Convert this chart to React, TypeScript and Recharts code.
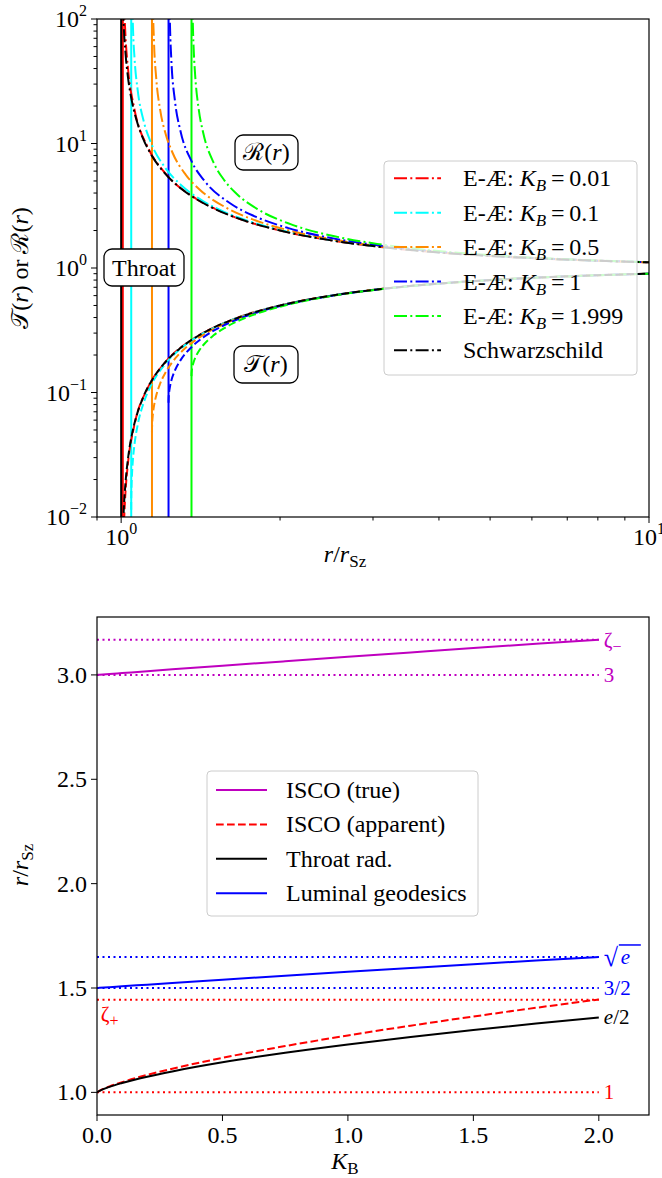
import { LineChart, Line, XAxis, YAxis, ReferenceLine } from "recharts";

const SERIF = "'Liberation Serif', 'Times New Roman', Times, serif";
const FS = 24;

// ---------- top panel: metric functions along r / r_Sz ----------
const KB_LABELS = ["0.01", "0.1", "0.5", "1", "1.999"];
const KB_COLORS = ["#ff0000", "#00ffff", "#ff8c00", "#0000ff", "#00ff00"];
const THROAT_R = [1.0072, 1.0449, 1.1439, 1.2296, 1.3591];
const HORIZON_R = 1;

// K_B = 0.01
const R_001 = [1.00719, 1.00722, 1.00752, 1.00805, 1.00975, 1.0121, 1.01501, 1.01843, 1.03105, 1.05809, 1.12623, 1.20505, 1.37876, 1.56294, 2.04195, 2.53144, 3.52098, 4.51574, 5.5126, 7.50902, 10.5063];
const T_001 = [0.00123, 0.00155, 0.00235, 0.0033, 0.0056, 0.00839, 0.01162, 0.01523, 0.02793, 0.0534, 0.11123, 0.16966, 0.27442, 0.36003, 0.51022, 0.60495, 0.71598, 0.77855, 0.81857, 0.86682, 0.90481];
const G_001 = [1e7, 14992, 1849, 761.5, 289.7, 161.7, 106.4, 76.84, 38.76, 19.43, 9.121, 5.941, 3.656, 2.783, 1.961, 1.654, 1.397, 1.2846, 1.2217, 1.1537, 1.1052];

// K_B = 0.1
const R_01 = [1.04485, 1.04485, 1.04488, 1.04503, 1.04546, 1.04662, 1.04875, 1.053, 1.06049, 1.0746, 1.10349, 1.13712, 1.21314, 1.29644, 1.42897, 1.56685, 1.7555, 2.04428, 2.5331, 3.52201, 4.5165, 5.51317, 7.50938, 10.5066];
const T_01 = [0.011451, 0.011821, 0.012506, 0.013561, 0.01539, 0.018491, 0.02263, 0.029335, 0.039035, 0.0548, 0.083061, 0.1124, 0.17058, 0.22519, 0.29806, 0.36039, 0.42953, 0.51036, 0.60502, 0.71601, 0.77856, 0.81857, 0.86683, 0.90481];
const G_01 = [1e7, 79134, 10288, 2789, 908.6, 342.3, 166.2, 84.31, 47.28, 26.97, 15.07, 10.31, 6.342, 4.665, 3.453, 2.828, 2.357, 1.973, 1.659, 1.399, 1.2855, 1.2223, 1.1539, 1.1053];

// K_B = 0.5
const R_05 = [1.14391, 1.14394, 1.14429, 1.14539, 1.14822, 1.15372, 1.1653, 1.18515, 1.21503, 1.24891, 1.3248, 1.40747, 1.58412, 1.76917, 2.05462, 2.54044, 3.52664, 4.51988, 5.51584, 7.51123, 10.5079];
const T_05 = [0.04777, 0.0493, 0.05293, 0.05821, 0.06632, 0.07741, 0.09446, 0.11752, 0.14633, 0.17461, 0.22834, 0.27749, 0.36201, 0.43061, 0.51102, 0.60534, 0.71612, 0.77861, 0.81863, 0.86684, 0.90482];
const G_05 = [1e7, 16000, 1519.5, 408.6, 147.7, 67.7, 33.47, 18.78, 11.81, 8.584, 5.623, 4.275, 3.038, 2.468, 2.029, 1.683, 1.407, 1.2898, 1.2248, 1.1552, 1.1059];

// K_B = 1
const R_1 = [1.22963, 1.22966, 1.2302, 1.23133, 1.233, 1.23776, 1.24414, 1.26567, 1.29321, 1.36004, 1.43664, 1.60569, 1.78624, 2.06757, 2.54966, 3.03925, 3.53245, 4.52411, 5.51919, 7.51363, 10.5095];
const T_1 = [0.08268, 0.08445, 0.08995, 0.09551, 0.1011, 0.11235, 0.12366, 0.15184, 0.17951, 0.23221, 0.28055, 0.364, 0.43195, 0.51183, 0.60574, 0.66988, 0.71625, 0.77868, 0.81866, 0.86685, 0.90482];
const G_1 = [1e7, 17851, 1120.5, 383.0, 197.0, 84.61, 49.0, 21.32, 12.98, 7.176, 5.037, 3.325, 2.6145, 2.0995, 1.7142, 1.5278, 1.4182, 1.2952, 1.2281, 1.1567, 1.1066];

// K_B = 1.999
const R_1999 = [1.35914, 1.35941, 1.36017, 1.36307, 1.36757, 1.37347, 1.38059, 1.40277, 1.42991, 1.4946, 1.56861, 1.64872, 1.82026, 2.09342, 2.56805, 3.05351, 3.54408, 4.5326, 5.52585, 7.51828, 10.5127];
const T_1999 = [0.13534, 0.14075, 0.14616, 0.15695, 0.16768, 0.17833, 0.18888, 0.21471, 0.23964, 0.2865, 0.32919, 0.36788, 0.4346, 0.51342, 0.60653, 0.67032, 0.71653, 0.7788, 0.81873, 0.86688, 0.90484];
const G_1999 = [1e7, 2601, 676, 182.3, 87.11, 52.56, 36.0, 18.78, 12.25, 7.111, 5.063, 4.0, 2.939, 2.25, 1.7778, 1.5625, 1.44, 1.3061, 1.2346, 1.1598, 1.108];

// Schwarzschild
const R_SZ = [1.0001, 1.0005, 1.002, 1.005, 1.01, 1.02, 1.03, 1.05, 1.07, 1.1, 1.15, 1.2, 1.3, 1.4, 1.5, 1.7, 2, 2.5, 3, 4, 5, 6, 8, 10.5];
const T_SZ = [0.0001, 0.0005, 0.002, 0.004975, 0.0099, 0.01961, 0.02913, 0.04762, 0.06542, 0.09091, 0.1304, 0.1667, 0.2308, 0.2857, 0.3333, 0.4118, 0.5, 0.6, 0.6667, 0.75, 0.8, 0.8333, 0.875, 0.9048];
const G_SZ = [10001, 2001, 501, 201, 101, 51, 34.33, 21, 15.29, 11, 7.667, 6, 4.333, 3.5, 3, 2.429, 2, 1.667, 1.5, 1.333, 1.25, 1.2, 1.143, 1.105];

const X_TICKS_TOP = [0.9, 1, 2, 3, 4, 5, 6, 7, 8, 9, 10];
const Y_TICKS_TOP = [0.01, 0.02, 0.03, 0.04, 0.05, 0.06, 0.07, 0.08, 0.09, 0.1, 0.2, 0.3, 0.4, 0.5, 0.6, 0.7, 0.8, 0.9, 1, 2, 3, 4, 5, 6, 7, 8, 9, 10, 20, 30, 40, 50, 60, 70, 80, 90, 100];
const MAJOR_TOP = [0.01, 0.1, 1, 10, 100];

// ---------- bottom panel: characteristic radii vs K_B ----------
const KB = [0, 0.01, 0.05, 0.1, 0.2, 0.3, 0.5, 0.75, 1, 1.25, 1.5, 1.75, 2];
const ISCO_TRUE = [3.0, 3.0009, 3.0045, 3.0089, 3.0178, 3.0266, 3.0441, 3.0656, 3.0869, 3.1078, 3.1285, 3.1489, 3.169];
const ISCO_APP = [1.0, 1.0076, 1.0285, 1.0492, 1.0837, 1.1134, 1.1654, 1.222, 1.2726, 1.3196, 1.3635, 1.4053, 1.4451];
const THROAT_RAD = [1.0, 1.0072, 1.0263, 1.0449, 1.0751, 1.1005, 1.1439, 1.1897, 1.2296, 1.2658, 1.299, 1.33, 1.3591];
const LUMINAL = [1.5, 1.5008, 1.504, 1.508, 1.516, 1.5239, 1.5396, 1.5587, 1.5774, 1.5958, 1.6138, 1.6314, 1.6487];

const LEVELS = [3.169, 3, 1.6487, 1.5, 1.4435, 1];
const LEVEL_COLORS = ["#bf00bf", "#bf00bf", "#0000ff", "#0000ff", "#ff0000", "#ff0000"];
const X_TICKS_BOT = [0, 0.5, 1, 1.5, 2];
const Y_TICKS_BOT = [1, 1.5, 2, 2.5, 3];
const X_DOM_BOT = [0, 2.2];
const Y_DOM_BOT = [0.8916, 3.2775];

// ---------- layout ----------
const W = 662;
const P1 = { l: 97, r: 649, t: 19, b: 517 };
const P2 = { l: 97, r: 649, t: 617, b: 1115 };
const CH = 560;
const DASHDOT = "13 3.3 2 3.3";
const DASHED = "7.7 3.3";
const DOTTED = "2 3.5";
const LW = 2;

const pts = (xs: number[], ys: number[], xk: string) => xs.map((x, i) => ({ [xk]: x, v: ys[i] }));

const TOP_CURVES = [
  { r: R_001, t: T_001, g: G_001 },
  { r: R_01, t: T_01, g: G_01 },
  { r: R_05, t: T_05, g: G_05 },
  { r: R_1, t: T_1, g: G_1 },
  { r: R_1999, t: T_1999, g: G_1999 },
];

const BOT_SERIES = [
  { name: "ISCO (true)", y: ISCO_TRUE, color: "#bf00bf", dash: undefined },
  { name: "ISCO (apparent)", y: ISCO_APP, color: "#ff0000", dash: DASHED },
  { name: "Throat rad.", y: THROAT_RAD, color: "#000000", dash: undefined },
  { name: "Luminal geodesics", y: LUMINAL, color: "#0000ff", dash: undefined },
];

const expText = (v: number) => {
  const e = Math.round(Math.log10(v));
  return e < 0 ? `\u2212${-e}` : `${e}`;
};

function LogXTick(props: any) {
  const { x, y, payload } = props;
  const major = MAJOR_TOP.includes(payload.value);
  return (
    <g>
      <line x1={x} x2={x} y1={y} y2={y + (major ? 6 : 3.5)} stroke="#000" strokeWidth={1} />
      {major && (
        <text x={x} y={y + 28} textAnchor="middle" fontFamily={SERIF} fontSize={FS} fill="#000">
          10<tspan dy={-11} fontSize={16}>{expText(payload.value)}</tspan>
        </text>
      )}
    </g>
  );
}

function LogYTick(props: any) {
  const { x, y, payload } = props;
  const major = MAJOR_TOP.includes(payload.value);
  return (
    <g>
      <line x1={x} x2={x - (major ? 6 : 3.5)} y1={y} y2={y} stroke="#000" strokeWidth={1} />
      {major && (
        <text x={x - 10} y={y + 8} textAnchor="end" fontFamily={SERIF} fontSize={FS} fill="#000">
          10<tspan dy={-11} fontSize={16}>{expText(payload.value)}</tspan>
        </text>
      )}
    </g>
  );
}

function LinXTick(props: any) {
  const { x, y, payload } = props;
  return (
    <g>
      <line x1={x} x2={x} y1={y} y2={y + 6} stroke="#000" strokeWidth={1} />
      <text x={x} y={y + 28} textAnchor="middle" fontFamily={SERIF} fontSize={FS} fill="#000">
        {payload.value.toFixed(1)}
      </text>
    </g>
  );
}

function LinYTick(props: any) {
  const { x, y, payload } = props;
  return (
    <g>
      <line x1={x} x2={x - 6} y1={y} y2={y} stroke="#000" strokeWidth={1} />
      <text x={x - 10} y={y + 8} textAnchor="end" fontFamily={SERIF} fontSize={FS} fill="#000">
        {payload.value.toFixed(1)}
      </text>
    </g>
  );
}

const y2 = (v: number) => P2.t + ((Y_DOM_BOT[1] - v) / (Y_DOM_BOT[1] - Y_DOM_BOT[0])) * (P2.b - P2.t);
const x2 = (k: number) => P2.l + ((k - X_DOM_BOT[0]) / (X_DOM_BOT[1] - X_DOM_BOT[0])) * (P2.r - P2.l);

function KbText({ value }: { value: string }) {
  return (
    <>
      E-Æ: <tspan fontStyle="italic">K</tspan>
      <tspan fontStyle="italic" fontSize={17} dy={5}>B</tspan>
      <tspan dy={-5}>{"\u2009=\u2009" + value}</tspan>
    </>
  );
}

function Overlay() {
  const legendRows = [
    ...KB_LABELS.map((l, i) => ({ color: KB_COLORS[i], label: <KbText value={l} /> })),
    { color: "#000000", label: <>Schwarzschild</> },
  ];
  const levelLabels = [
    { txt: "ζ", sub: "\u2212" },
    { txt: "3" },
    null,
    { txt: "3/2" },
    null,
    { txt: "1" },
  ];
  const lx = x2(2.02);
  return (
    <svg width={W} height={1178} style={{ position: "absolute", left: 0, top: 0, pointerEvents: "none" }}>
      <g fontFamily={SERIF} fill="#000">
        {/* frames */}
        <rect x={P1.l} y={P1.t} width={P1.r - P1.l} height={P1.b - P1.t} fill="none" stroke="#000" strokeWidth={1.2} />
        <rect x={P2.l} y={P2.t} width={P2.r - P2.l} height={P2.b - P2.t} fill="none" stroke="#000" strokeWidth={1.2} />

        {/* top annotations */}
        <rect x={235} y={135} width={63} height={35} rx={8} fill="#fff" stroke="#000" strokeWidth={1.3} />
        <text x={266.5} y={160} textAnchor="middle" fontSize={FS}>
          <tspan>ℛ(</tspan><tspan fontStyle="italic">r</tspan><tspan>)</tspan>
        </text>
        <rect x={104} y={249} width={80} height={37} rx={8} fill="#fff" stroke="#000" strokeWidth={1.3} />
        <text x={144} y={276} textAnchor="middle" fontSize={FS}>Throat</text>
        <rect x={234} y={346} width={64} height={37} rx={8} fill="#fff" stroke="#000" strokeWidth={1.3} />
        <text x={266} y={372} textAnchor="middle" fontSize={FS}>
          <tspan>𝒯(</tspan><tspan fontStyle="italic">r</tspan><tspan>)</tspan>
        </text>

        {/* top legend */}
        <rect x={384} y={161} width={253} height={214} rx={4} fill="#fff" fillOpacity={0.8} stroke="#cccccc" strokeWidth={1} />
        {legendRows.map((row, i) => {
          const cy = 178.3 + i * 34.4;
          return (
            <g key={i}>
              <line x1={394} x2={441} y1={cy} y2={cy} stroke={row.color} strokeWidth={LW} strokeDasharray={DASHDOT} />
              <text x={463} y={cy + 8} fontSize={FS}>{row.label}</text>
            </g>
          );
        })}

        {/* top axis labels */}
        <text x={345} y={562} textAnchor="middle" fontSize={FS}>
          <tspan fontStyle="italic">r</tspan>/<tspan fontStyle="italic">r</tspan>
          <tspan fontSize={17} dy={5}>Sz</tspan>
        </text>
        <text transform="rotate(-90)" x={-268} y={28} textAnchor="middle" fontSize={FS}>
          <tspan>𝒯(</tspan><tspan fontStyle="italic">r</tspan><tspan>) or ℛ(</tspan><tspan fontStyle="italic">r</tspan><tspan>)</tspan>
        </text>

        {/* bottom legend */}
        <rect x={207} y={771} width={271} height={145} rx={4} fill="#fff" fillOpacity={0.8} stroke="#cccccc" strokeWidth={1} />
        {BOT_SERIES.map((s, i) => {
          const cy = 790 + i * 34.4;
          return (
            <g key={s.name}>
              <line x1={216} x2={267} y1={cy} y2={cy} stroke={s.color} strokeWidth={LW} strokeDasharray={s.dash} />
              <text x={286} y={cy + 8} fontSize={FS}>{s.name}</text>
            </g>
          );
        })}

        {/* level labels */}
        {levelLabels.map((lab, i) =>
          lab ? (
            <text key={i} x={lx} y={y2(LEVELS[i]) + 7} fontSize={21} fill={LEVEL_COLORS[i]}>
              {lab.txt}
              {lab.sub && <tspan fontSize={16} dy={5}>{lab.sub}</tspan>}
            </text>
          ) : null
        )}
        <g fill="#0000ff" stroke="none">
          <text x={lx} y={y2(LEVELS[2]) + 9} fontSize={26}>√</text>
          <line x1={lx + 15} x2={lx + 37} y1={y2(LEVELS[2]) - 12} y2={y2(LEVELS[2]) - 12} stroke="#0000ff" strokeWidth={1.5} />
          <text x={lx + 17} y={y2(LEVELS[2]) + 7} fontSize={21} fontStyle="italic">e</text>
        </g>
        <text x={lx} y={y2(THROAT_RAD[THROAT_RAD.length - 1]) + 7} fontSize={21}>
          <tspan fontStyle="italic">e</tspan>/2
        </text>
        <text x={x2(0.015)} y={y2(LEVELS[4]) + 21} fontSize={21} fill="#ff0000">
          ζ<tspan fontSize={16} dy={5}>+</tspan>
        </text>

        {/* bottom axis labels */}
        <text x={345} y={1169} textAnchor="middle" fontSize={FS}>
          <tspan fontStyle="italic">K</tspan>
          <tspan fontSize={17} dy={5}>B</tspan>
        </text>
        <text transform="rotate(-90)" x={-865} y={28} textAnchor="middle" fontSize={FS}>
          <tspan fontStyle="italic">r</tspan>/<tspan fontStyle="italic">r</tspan>
          <tspan fontSize={17} dy={5}>Sz</tspan>
        </text>
      </g>
    </svg>
  );
}

export default function App() {
  return (
    <div style={{ position: "absolute", left: 0, top: 0, width: W, height: 1178, background: "#fff" }}>
      <div style={{ position: "absolute", left: 0, top: 0 }}>
        <LineChart width={W} height={CH} margin={{ top: P1.t, right: W - P1.r, left: 0, bottom: 0 }}>
          <XAxis
            type="number"
            dataKey="r"
            scale="log"
            domain={[0.9, 10]}
            allowDataOverflow
            ticks={X_TICKS_TOP}
            interval={0}
            tick={<LogXTick />}
            tickLine={false}
            axisLine={false}
            tickSize={0}
            tickMargin={0}
            height={CH - P1.b}
          />
          <YAxis
            type="number"
            scale="log"
            domain={[0.01, 100]}
            allowDataOverflow
            ticks={Y_TICKS_TOP}
            interval={0}
            tick={<LogYTick />}
            tickLine={false}
            axisLine={false}
            tickSize={0}
            tickMargin={0}
            width={P1.l}
          />
          {TOP_CURVES.map((c, i) => (
            <ReferenceLine key={`v${i}`} x={THROAT_R[i]} stroke={KB_COLORS[i]} strokeWidth={LW} />
          ))}
          <ReferenceLine x={HORIZON_R} stroke="#000" strokeWidth={LW} />
          {TOP_CURVES.map((c, i) => (
            <Line
              key={`g${i}`}
              data={pts(c.r, c.g, "r")}
              dataKey="v"
              type="monotone"
              stroke={KB_COLORS[i]}
              strokeWidth={LW}
              strokeDasharray={DASHDOT}
              dot={false}
              isAnimationActive={false}
            />
          ))}
          {TOP_CURVES.map((c, i) => (
            <Line
              key={`t${i}`}
              data={pts(c.r, c.t, "r")}
              dataKey="v"
              type="monotone"
              stroke={KB_COLORS[i]}
              strokeWidth={LW}
              strokeDasharray={DASHED}
              dot={false}
              isAnimationActive={false}
            />
          ))}
          <Line data={pts(R_SZ, G_SZ, "r")} dataKey="v" type="monotone" stroke="#000" strokeWidth={LW} strokeDasharray={DASHDOT} dot={false} isAnimationActive={false} />
          <Line data={pts(R_SZ, T_SZ, "r")} dataKey="v" type="monotone" stroke="#000" strokeWidth={LW} strokeDasharray={DASHED} dot={false} isAnimationActive={false} />
        </LineChart>
      </div>

      <div style={{ position: "absolute", left: 0, top: P2.t - P1.t }}>
        <LineChart width={W} height={CH} margin={{ top: P1.t, right: W - P2.r, left: 0, bottom: 0 }}>
          <XAxis
            type="number"
            dataKey="k"
            domain={X_DOM_BOT}
            allowDataOverflow
            ticks={X_TICKS_BOT}
            interval={0}
            tick={<LinXTick />}
            tickLine={false}
            axisLine={false}
            tickSize={0}
            tickMargin={0}
            height={CH - P1.b}
          />
          <YAxis
            type="number"
            domain={Y_DOM_BOT}
            allowDataOverflow
            ticks={Y_TICKS_BOT}
            interval={0}
            tick={<LinYTick />}
            tickLine={false}
            axisLine={false}
            tickSize={0}
            tickMargin={0}
            width={P2.l}
          />
          {LEVELS.map((lv, i) => (
            <ReferenceLine
              key={`l${i}`}
              segment={[{ x: 0, y: lv }, { x: 2, y: lv }]}
              stroke={LEVEL_COLORS[i]}
              strokeWidth={LW}
              strokeDasharray={DOTTED}
            />
          ))}
          {BOT_SERIES.map((s) => (
            <Line
              key={s.name}
              data={pts(KB, s.y, "k")}
              dataKey="v"
              type="monotone"
              stroke={s.color}
              strokeWidth={LW}
              strokeDasharray={s.dash}
              dot={false}
              isAnimationActive={false}
            />
          ))}
        </LineChart>
      </div>

      <Overlay />
    </div>
  );
}
